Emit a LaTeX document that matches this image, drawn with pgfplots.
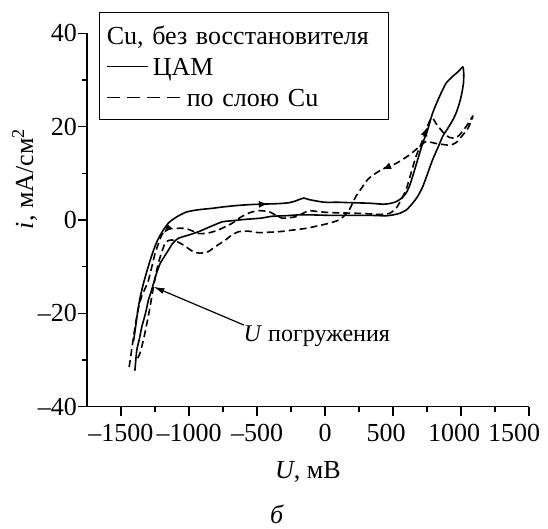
\documentclass[border=0pt]{standalone}
\usepackage{fontspec}
\setmainfont{Liberation Serif}
\usepackage{pgfplots}
\pgfplotsset{compat=1.18}
\usetikzlibrary{arrows.meta}

\begin{document}
\fontsize{26}{30}\selectfont
\begin{tikzpicture}
\path[use as bounding box] (-87pt,-121.3pt) rectangle (461pt,406.7pt);
\begin{axis}[
  scale only axis, width=442pt, height=373.4pt,
  xmin=-1750, xmax=1500, ymin=-40, ymax=40,
  axis lines*=left, axis line style={line width=1.3pt},
  tick align=outside, tick style={line width=1.3pt, black},
  major tick length=9pt, minor tick length=5pt,
  xtick={-1500,-1000,-500,0,500,1000,1500},
  xticklabels={–1500,–1000,–500,0,\hspace*{-14pt}500,\hspace*{-14pt}1000,\hspace*{-30pt}1500},
  minor xtick={-1250,-750,-250,250,750,1250},
  ytick={-40,-20,0,20,40},
  yticklabels={–40,–20,0,20,40},
  minor ytick={-30,-10,10,30},
  yticklabel style={inner xsep=1pt},
  xlabel={\textit{U}, мВ},
  xlabel style={at={(axis description cs:0.5,-0.1936)}, anchor=base, inner sep=0pt},
  ylabel={\textit{i}, мА/см\textsuperscript{2}},
  ylabel style={at={(axis description cs:-0.122,0.61)}, anchor=base, inner sep=0pt},
  clip=false,
]
% ЦАМ (solid)
\addplot[black, line width=1.6pt, smooth, tension=0.4] coordinates {
(-1408,-26) (-1396,-23.6) (-1384,-21) (-1372,-18.6) (-1355,-16) (-1335,-13.6)
(-1310,-11) (-1285,-8.6) (-1255,-6) (-1224,-3.9) (-1190,-2.2) (-1150,-0.6)
(-1110,0.3) (-1077,0.9) (-1020,1.7) (-954,2.1) (-900,2.3) (-831,2.5) (-750,2.8)
(-650,3.1) (-550,3.3) (-462,3.4) (-350,3.5) (-265,3.7) (-215,4.1) (-180,4.5)
(-155,4.7) (-120,4.4) (-69,4.1) (0,3.8) (100,3.8) (200,3.7) (324,3.6) (423,3.4)
(470,3.5) (521,3.9) (560,4.6) (595,5.7) (620,7.2) (644,9.3) (681,12.9) (718,16.4)
(755,19.3) (791,22.9) (841,26.4) (890,29.3) (940,30.8) (980,31.8) (1013,32.8)
(1020,31.5) (1018,29.3) (1005,27) (988,25) (965,23) (939,21.4) (900,19.5)
(865,17.9) (830,15.5) (791,12.9) (755,10) (718,7.1) (680,5) (644,3.6) (600,2.2)
(546,1.4) (500,1.1) (448,0.9) (324,1.0) (200,1.0) (30,1.0) (-100,1.1) (-192,1.1)
(-300,0.9) (-389,0.8) (-470,0.4) (-560,0.2) (-600,0.1) (-700,-0.2) (-757,-0.4)
(-850,-1.5) (-929,-2.5) (-1000,-3.2) (-1077,-3.9) (-1120,-5) (-1150,-6.4)
(-1185,-8) (-1212,-9.3) (-1240,-11.5) (-1261,-13.6) (-1280,-15.5) (-1298,-17.1)
(-1320,-20) (-1347,-22.9) (-1365,-25.5) (-1384,-27.9) (-1398,-32.3)
};
% по слою Cu (dashed)
\addplot[black, line width=1.6pt, dash pattern=on 7pt off 4pt, smooth, tension=0.4] coordinates {
(-1440,-31.5) (-1425,-28.5) (-1405,-24.5) (-1380,-20) (-1350,-16.5) (-1320,-14.5)
(-1298,-12.9) (-1273,-10) (-1249,-7.1) (-1224,-5) (-1200,-3.2) (-1160,-2.0)
(-1100,-1.8) (-1028,-1.8) (-970,-2.4) (-929,-2.9) (-860,-2.8) (-782,-2.1)
(-683,-0.7) (-620,0.6) (-550,1.6) (-487,2.0) (-413,1.8) (-360,1.0) (-315,0.4)
(-216,0.7) (-150,1.6) (-118,2.0) (-50,1.8) (30,1.6) (150,1.5) (275,1.4) (400,1.2)
(472,1.4) (520,2.4) (546,3.6) (595,6.4) (632,10) (669,13.6) (718,17.1) (750,19.8)
(779,21.8) (800,21.5) (816,20.7) (865,18.9) (914,17.7) (960,17.6) (988,18.2)
(1037,20) (1086,22.2)
(1075,21.2) (1050,19.6) (1013,18.2) (964,16.6) (920,16.0) (890,16.1) (816,16.4)
(743,16.8) (693,15.7) (619,13.9) (521,12.1) (423,10.9) (337,9.3) (300,8.2)
(275,7.1) (226,5) (177,2.1) (130,0.6) (103,0) (30,-0.7) (-60,-1.3) (-142,-1.8)
(-250,-2.2) (-339,-2.5) (-487,-2.7) (-560,-2.4) (-634,-2.5) (-690,-3.3)
(-732,-4.3) (-806,-5.7) (-860,-6.8) (-917,-7.1) (-960,-6.9) (-990,-6.4)
(-1050,-5.2) (-1113,-4.3) (-1150,-4.4) (-1177,-5) (-1212,-7.9) (-1237,-10.7)
(-1265,-15) (-1295,-20) (-1330,-25) (-1360,-28.5) (-1385,-30)
};
% scan-direction arrowheads on the curves
\addplot[black, line width=1.2pt, -{Latex[length=9pt,width=7pt]}, forget plot] coordinates {(-440,3.42) (-420,3.45)};
\addplot[black, line width=1.2pt, -{Latex[length=9pt,width=7pt]}, forget plot] coordinates {(440,11.1) (420,10.85)};
\addplot[black, line width=1.2pt, -{Latex[length=9pt,width=7pt]}, forget plot] coordinates {(742,19.1) (752,19.9)};
\addplot[black, line width=1.2pt, -{Latex[length=9pt,width=7pt]}, forget plot] coordinates {(-1170,-2.3) (-1185,-2.8)};
% legend
\node[draw, line width=1.3pt, anchor=north west, inner xsep=7pt, inner ysep=13pt,
      text width=275pt, align=left, font=\fontsize{26}{31}\selectfont] at (axis cs:-1661,44.6)
  {Cu, без восстановителя\\
   \rule[0.3em]{41pt}{1.6pt}\hspace{5pt}ЦАМ\\
   \rule[0.3em]{13pt}{1.6pt}\hspace{7pt}\rule[0.3em]{13pt}{1.6pt}\hspace{7pt}%
   \rule[0.3em]{13pt}{1.6pt}\hspace{7pt}\rule[0.3em]{13pt}{1.6pt}\hspace{7pt}по слою Cu};
% annotation
\draw[line width=1.2pt, -{Latex[length=11pt,width=6pt]}] (axis cs:-597,-22.5) -- (axis cs:-1261,-14.3);
\node[anchor=west, inner sep=0pt, font=\fontsize{24}{28}\selectfont] at (axis cs:-600,-24.8) {\textit{U} погружения};
\node[anchor=base, inner sep=0pt] at (axis description cs:0.43,-0.312) {\textit{б}};
\end{axis}
\end{tikzpicture}
\end{document}
